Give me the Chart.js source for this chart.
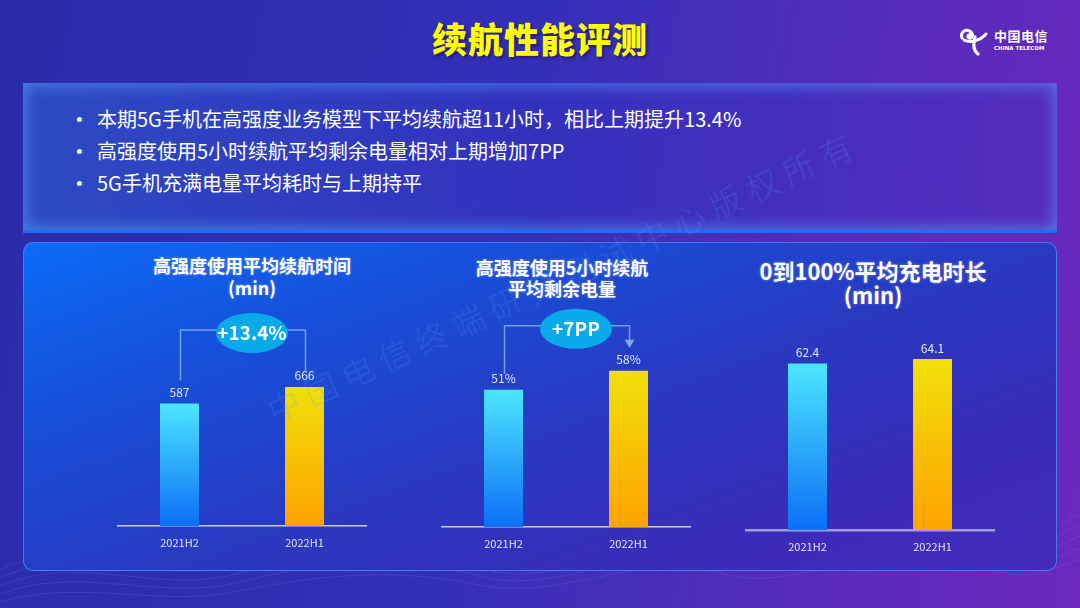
<!DOCTYPE html>
<html lang="zh-CN">
<head>
<meta charset="utf-8">
<title>续航性能评测</title>
<script src="https://cdn.jsdelivr.net/npm/chart.js@4.4.1/dist/chart.umd.min.js"></script>
<style>
    html, body {
        margin: 0;
        padding: 0;
    }
    body {
        width: 1080px;
        height: 608px;
        overflow: hidden;
        position: relative;
        font-family: "Noto Sans CJK SC", "Noto Sans", sans-serif;
        background: linear-gradient(100deg, #2a2ba9 0%, #3330b8 45%, #5a2bbb 80%, #6c28bd 100%);
    }
    .mesh {
        position: absolute;
        left: 0;
        top: 460px;
        width: 1080px;
        height: 148px;
    }
    .title {
        position: absolute;
        left: 0;
        width: 1080px;
        top: 12px;
        text-align: center;
        color: #ffff00;
        font-size: 35px;
        font-weight: 900;
        letter-spacing: 1px;
        text-shadow: 2px 2px 3px rgba(20, 10, 80, 0.6);
    }
    .logo {
        position: absolute;
        left: 958px;
        top: 26px;
        width: 100px;
        height: 32px;
        color: #fff;
    }
    .logo .cn {
        position: absolute;
        left: 36px;
        top: 0;
        font-size: 13px;
        font-weight: 700;
        letter-spacing: 0.5px;
        white-space: nowrap;
    }
    .logo .en {
        position: absolute;
        left: 36px;
        top: 19px;
        font-family: "DejaVu Sans", sans-serif;
        font-size: 5.5px;
        font-weight: 700;
        white-space: nowrap;
    }
    .notes {
        position: absolute;
        left: 23px;
        top: 83px;
        width: 1034px;
        height: 147px;
        background: linear-gradient(90deg, rgba(45, 80, 200, 0.85) 0%, rgba(50, 50, 190, 0.7) 50%, rgba(80, 45, 190, 0.7) 100%);
        box-shadow: inset 0 0 14px 4px rgba(90, 160, 255, 0.55);
        border-bottom: 3px solid #1a70f2;
    }
    .notes ul {
        margin: 0;
        padding: 0;
        list-style: none;
        position: absolute;
        left: 52px;
        top: 20px;
    }
    .notes li {
        color: #fff;
        font-size: 20px;
        line-height: 32px;
        white-space: nowrap;
        position: relative;
        padding-left: 22px;
    }
    .notes li::before {
        content: "";
        position: absolute;
        left: 2px;
        top: 14px;
        width: 5px;
        height: 5px;
        border-radius: 50%;
        background: #fff;
    }
    .panel {
        position: absolute;
        left: 23px;
        top: 242px;
        width: 1032px;
        height: 327px;
        border-radius: 10px;
        border: 1px solid rgba(80, 150, 255, 0.7);
        background: linear-gradient(160deg, #0b6cf6 0%, #1650da 25%, #2a38c0 55%, #3a2cb8 80%, #452bbd 100%);
    }
    .watermark {
        position: absolute;
        left: 239px;
        top: 255px;
        width: 648px;
        height: 40px;
        line-height: 40px;
        font-size: 32px;
        letter-spacing: 8.5px;
        text-align: center;
        color: rgba(70, 165, 255, 0.22);
        transform: rotate(-24.8deg);
        transform-origin: 50% 50%;
        white-space: nowrap;
        font-weight: 300;
    }
    .chart-title {
        position: absolute;
        color: #fff;
        font-weight: 700;
        text-align: center;
        white-space: nowrap;
        text-shadow: 0 0 3px rgba(255, 255, 255, 0.35);
    }
    canvas {
        position: absolute;
    }
</style>
</head>
<body>
<svg class="mesh" viewBox="0 0 1080 148" preserveAspectRatio="none">
    <g fill="none" stroke="rgba(120,150,255,0.22)" stroke-width="0.8">
        <path d="M0 110 C80 70 160 120 240 95 S400 60 480 92 S640 40 720 80 S880 20 960 60 S1040 70 1080 55"/>
        <path d="M0 118 C80 80 160 128 240 104 S400 70 480 100 S640 50 720 88 S880 30 960 70 S1040 80 1080 65"/>
        <path d="M0 126 C80 92 160 136 240 113 S400 82 480 108 S640 62 720 96 S880 42 960 80 S1040 90 1080 76"/>
        <path d="M0 134 C80 104 160 142 240 122 S400 94 480 116 S640 76 720 104 S880 56 960 90 S1040 100 1080 88"/>
        <path d="M0 142 C80 118 160 148 240 131 S400 108 480 125 S640 90 720 113 S880 72 960 100 S1040 110 1080 100"/>
    </g>
</svg>

<div class="title">续航性能评测</div>

<div class="logo">
    <svg width="32" height="30" viewBox="0 0 32 30">
        <path d="M4 12 C2 6 8 2 13 6 C16 9 14 13 11 12 C9 11 10 8 12 9" fill="none" stroke="#fff" stroke-width="3" stroke-linecap="round"/>
        <path d="M6 14 C12 17 22 15 28 8" fill="none" stroke="#fff" stroke-width="3" stroke-linecap="round"/>
        <path d="M17 11 C15 18 15 24 20 28" fill="none" stroke="#fff" stroke-width="3.2" stroke-linecap="round"/>
    </svg>
    <div class="cn">中国电信</div>
    <div class="en">CHINA TELECOM</div>
</div>

<div class="notes">
    <ul>
        <li>本期5G手机在高强度业务模型下平均续航超11小时，相比上期提升13.4%</li>
        <li>高强度使用5小时续航平均剩余电量相对上期增加7PP</li>
        <li>5G手机充满电量平均耗时与上期持平</li>
    </ul>
</div>

<div class="panel"></div>

<div class="chart-title" style="left:142px; width:220px; top:254px; font-size:18px; line-height:22px;">高强度使用平均续航时间<br>(min)</div>
<div class="chart-title" style="left:452px; width:220px; top:257px; font-size:18px; line-height:21px;">高强度使用5小时续航<br>平均剩余电量</div>
<div class="chart-title" style="left:743px; width:260px; top:258px; font-size:22px; line-height:24px;">0到100%平均充电时长<br>(min)</div>

<canvas id="chart-endurance" width="250" height="266" style="left:117px; top:290px;"></canvas>
<canvas id="chart-remaining" width="250" height="267" style="left:441px; top:290px;"></canvas>
<canvas id="chart-charging" width="250" height="270" style="left:745px; top:290px;"></canvas>

<div class="watermark">中国电信终端研究测试中心版权所有</div>

<script>
// --- Data ---
const periods = ['2021H2', '2022H1'];
const enduranceMinutes = [587, 666];
const remainingBatteryPct = [51, 58];
const chargeMinutes = [62.4, 64.1];

const enduranceChange = '+13.4%';
const remainingChange = '+7PP';

const CJK_FONT = '"Noto Sans CJK SC", "Noto Sans", sans-serif';

// --- Bar fill: cyan->blue for last period, yellow->orange for current ---
function barFill(context) {
    const chart = context.chart;
    const area = chart.chartArea;
    const yScale = chart.scales.y;
    const isCurrent = context.dataIndex === 1;
    if (!area || !yScale) {
        return isCurrent ? '#f5c400' : '#2aa8ff';
    }
    const value = chart.data.datasets[0].data[context.dataIndex];
    const top = yScale.getPixelForValue(value);
    const gradient = chart.ctx.createLinearGradient(0, top, 0, area.bottom);
    if (isCurrent) {
        gradient.addColorStop(0, '#f0e00a');
        gradient.addColorStop(1, '#ffa300');
    } else {
        gradient.addColorStop(0, '#4ce6ff');
        gradient.addColorStop(1, '#0b6ff6');
    }
    return gradient;
}

// --- Plugin: value labels above each bar ---
const valueLabelPlugin = {
    id: 'valueLabels',
    afterDatasetsDraw(chart, args, opts) {
        const ctx = chart.ctx;
        const meta = chart.getDatasetMeta(0);
        const values = chart.data.datasets[0].data;
        ctx.save();
        ctx.fillStyle = '#e2e4ff';
        ctx.font = '12px ' + CJK_FONT;
        ctx.textAlign = 'center';
        ctx.textBaseline = 'middle';
        meta.data.forEach((bar, i) => {
            ctx.fillText(opts.format(values[i]), bar.x, bar.y - 11);
        });
        ctx.restore();
    }
};

// --- Plugin: change bracket with bubble ---
const changeBracketPlugin = {
    id: 'changeBracket',
    afterDatasetsDraw(chart, args, opts) {
        if (!opts || !opts.text) return;
        const ctx = chart.ctx;
        const bars = chart.getDatasetMeta(0).data;
        const a = bars[0];
        const b = bars[1];
        const topY = Math.min(a.y, b.y) - opts.rise;
        const leftStart = a.y - opts.leftGap;
        const rightEnd = b.y - opts.rightGap;
        const ax = a.x + 1;
        const bx = b.x + 1;

        ctx.save();
        ctx.strokeStyle = 'rgba(130, 175, 245, 0.85)';
        ctx.lineWidth = 1.5;
        ctx.beginPath();
        ctx.moveTo(ax, leftStart);
        ctx.lineTo(ax, topY);
        ctx.lineTo(bx, topY);
        ctx.lineTo(bx, rightEnd);
        ctx.stroke();

        if (opts.arrow) {
            ctx.fillStyle = 'rgba(130, 175, 245, 0.95)';
            ctx.beginPath();
            ctx.moveTo(bx - 5, rightEnd - 7);
            ctx.lineTo(bx + 5, rightEnd - 7);
            ctx.lineTo(bx, rightEnd + 1);
            ctx.closePath();
            ctx.fill();
        }

        const cx = (a.x + b.x) / 2 + 10;
        const cy = topY + 3;
        ctx.fillStyle = '#08aaea';
        ctx.beginPath();
        ctx.ellipse(cx, cy, 36, 20, 0, 0, Math.PI * 2);
        ctx.fill();

        ctx.fillStyle = '#ffffff';
        ctx.font = 'bold 19px ' + CJK_FONT;
        ctx.textAlign = 'center';
        ctx.textBaseline = 'middle';
        ctx.fillText(opts.text, cx, cy);
        ctx.restore();
    }
};

function makeBarChart(canvasId, values, yMax, format, bracket, axisColor, axisWidth) {
    const canvas = document.getElementById(canvasId);
    return new Chart(canvas, {
        type: 'bar',
        data: {
            labels: periods,
            datasets: [{
                data: values,
                backgroundColor: barFill,
                borderWidth: 0,
                barPercentage: 0.312,
                categoryPercentage: 1
            }]
        },
        options: {
            responsive: false,
            animation: false,
            layout: { padding: 0 },
            plugins: {
                legend: { display: false },
                tooltip: { enabled: false },
                valueLabels: { format: format },
                changeBracket: bracket
            },
            scales: {
                x: {
                    grid: { display: false, drawTicks: false },
                    border: { display: true, color: axisColor, width: axisWidth },
                    ticks: {
                        color: '#e4e6ff',
                        font: { size: 11, family: CJK_FONT },
                        padding: 10
                    },
                    afterFit: (scale) => { scale.height = 30; }
                },
                y: {
                    display: false,
                    min: 0,
                    max: yMax
                }
            }
        },
        plugins: [valueLabelPlugin, changeBracketPlugin]
    });
}

makeBarChart('chart-endurance', enduranceMinutes, 1130, v => String(v),
    { text: enduranceChange, rise: 57, leftGap: 23, rightGap: 15, arrow: false },
    'rgba(220, 222, 245, 0.9)', 1.5);

makeBarChart('chart-remaining', remainingBatteryPct, 88, v => v + '%',
    { text: remainingChange, rise: 45, leftGap: 16, rightGap: 24, arrow: true },
    'rgba(220, 222, 245, 0.9)', 1.5);

makeBarChart('chart-charging', chargeMinutes, 90, v => v.toFixed(1),
    null,
    'rgba(170, 170, 225, 0.9)', 2.5);
</script>
</body>
</html>
